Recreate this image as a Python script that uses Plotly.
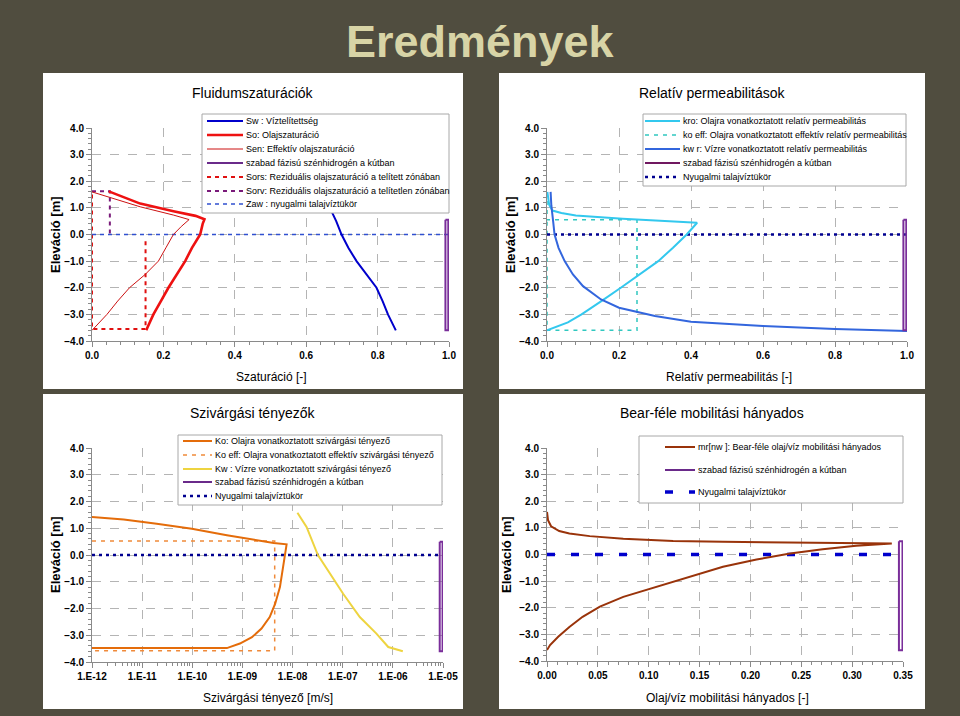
import plotly.graph_objects as go

W, H = 960, 716


def px(x):
    return x / W


def py(y):
    return 1 - y / H


# ------------------------------------------------------------------ data
# Panel 1 – Fluidumszaturációk
sw_elev = [1.6, 0.9, 0.5, 0.0, -0.5, -1.0, -1.5, -2.0, -2.5, -3.0, -3.6]
sw_val = [0.645, 0.671, 0.684, 0.699, 0.718, 0.741, 0.768, 0.797, 0.814, 0.829, 0.851]

so_elev = [1.62, 1.45, 1.16, 0.875, 0.7, 0.57, 0.4, 0.0, -0.5, -1.0, -1.5, -2.0, -2.5, -3.0, -3.5, -3.6]
so_val = [0.047, 0.08, 0.135, 0.228, 0.29, 0.315, 0.31, 0.303, 0.28, 0.261, 0.237, 0.214, 0.193, 0.172, 0.155, 0.152]

sen_elev = [1.6, 1.04, 0.73, 0.56, 0.3, 0.0, -0.5, -1.0, -1.5, -2.0, -2.5, -3.0, -3.6]
sen_val = [0.0, 0.135, 0.228, 0.272, 0.25, 0.228, 0.207, 0.186, 0.149, 0.105, 0.072, 0.042, 0.0]

sors_elev = [-0.25, -3.55, -3.55, 1.6]
sors_val = [0.15, 0.15, 0.0, 0.0]

sorv_elev = [1.62, 1.62, 0.0]
sorv_val = [0.0, 0.05, 0.05]

zaw_elev = [0.0, 0.0]
zaw_val = [0.0, 1.0]

well1_elev = [0.55, 0.55, -3.6, -3.6, 0.55]
well1_val = [0.99, 0.998, 0.998, 0.99, 0.99]

# Panel 2 – Relatív permeabilitások
kro_elev = [1.6, 1.12, 0.9, 0.81, 0.71, 0.59, 0.5, 0.44, 0.0, -0.5, -1.0, -1.5, -2.0, -2.5, -3.0, -3.3, -3.6]
kro_val = [0.001, 0.006, 0.015, 0.04, 0.08, 0.21, 0.34, 0.417, 0.388, 0.35, 0.309, 0.258, 0.205, 0.151, 0.096, 0.058, 0.0]

koeff_elev = [1.6, 0.55, 0.55, -3.6, -3.6, 0.55]
koeff_val = [0.0, 0.0, 0.25, 0.25, 0.0, 0.0]

kwr_elev = [1.6, 1.1, 0.5, 0.0, -0.5, -1.0, -1.5, -1.94, -2.44, -2.75, -3.06, -3.28, -3.44, -3.55, -3.62]
kwr_val = [0.010, 0.012, 0.017, 0.021, 0.032, 0.049, 0.072, 0.10, 0.15, 0.20, 0.30, 0.40, 0.60, 0.80, 1.0]

well2_elev = [0.55, 0.55, -3.6, -3.6, 0.55]
well2_val = [0.99, 0.998, 0.998, 0.99, 0.99]

gw2_elev = [0.0, 0.0]
gw2_val = [0.0, 1.0]

# Panel 3 – Szivárgási tényezők
ko_elev = [1.42, 1.33, 1.17, 0.98, 0.74, 0.55, 0.45, 0.40, 0.05, -0.57, -1.2, -1.82, -2.32, -2.75, -3.07, -3.31, -3.48, -3.48]
ko_val = [1e-12, 4.3e-12, 1.95e-11, 9.8e-11, 4.9e-10, 1.9e-9, 4.2e-9, 7.6e-9, 7.1e-9, 6.3e-9, 5.6e-9,
          4.5e-9, 3.5e-9, 2.4e-9, 1.55e-9, 8.9e-10, 4.9e-10, 1e-12]

koeff3_elev = [0.52, 0.52, -3.58, -3.58]
koeff3_val = [1e-12, 4.4e-9, 4.4e-9, 1e-12]

kw_elev = [1.58, 1.05, 0.0, -0.70, -1.45, -2.32, -2.94, -3.44, -3.6]
kw_val = [1.25e-8, 1.9e-8, 3.2e-8, 5.5e-8, 1.02e-7, 2.19e-7, 4.7e-7, 8.1e-7, 1.58e-6]

well3_elev = [0.5, 0.5, -3.6, -3.6, 0.5]
well3_val = [8.6e-6, 9.8e-6, 9.8e-6, 8.6e-6, 8.6e-6]

gw3_elev = [0.0, 0.0]
gw3_val = [1e-12, 1e-5]

log_ticks = [1e-12, 1e-11, 1e-10, 1e-9, 1e-8, 1e-7, 1e-6, 1e-5]
log_ticktext = ["1.E-12", "1.E-11", "1.E-10", "1.E-09", "1.E-08", "1.E-07", "1.E-06", "1.E-05"]

# Panel 4 – Bear-féle mobilitási hányados
mr_elev = [1.6, 1.29, 1.06, 0.88, 0.79, 0.69, 0.59, 0.51, 0.48, 0.45, 0.44, 0.41, 0.33, 0.20, 0.04, -0.19,
           -0.46, -0.84, -1.21, -1.59, -1.96, -2.34, -2.72, -3.09, -3.4, -3.59]
mr_val = [0.0, 0.001, 0.004, 0.012, 0.022, 0.042, 0.075, 0.124, 0.173, 0.239, 0.304, 0.339, 0.304, 0.271,
          0.239, 0.206, 0.173, 0.140, 0.107, 0.075, 0.052, 0.035, 0.022, 0.011, 0.003, 0.0]

well4_elev = [0.5, 0.5, -3.6, -3.6, 0.5]
well4_val = [0.346, 0.3495, 0.3495, 0.346, 0.346]

gw4_elev = [0.0, 0.0]
gw4_val = [0.0, 0.35]

# ------------------------------------------------------------------ styles
BG = "#504D3F"
TITLE_C = "#D8D4A6"
PURPLE = "#7A2E9A"

S = {
    "sw": dict(color="#0000CC", width=2),
    "so": dict(color="#EE1111", width=2.6),
    "sen": dict(color="#CC1111", width=1),
    "well": dict(color=PURPLE, width=2),
    "sors": dict(color="#E01010", width=2, dash="4px,4px"),
    "sorv": dict(color="#7A1A7A", width=2, dash="4px,4px"),
    "zaw": dict(color="#3050D0", width=1.5, dash="4px,4px"),
    "kro": dict(color="#33C8EE", width=2),
    "koeff": dict(color="#30C8C0", width=1.5, dash="4px,5px"),
    "kwr": dict(color="#3366DD", width=2),
    "gw": dict(color="#000090", width=2.5, dash="3px,4px"),
    "ko": dict(color="#E46C0A", width=2),
    "koeff3": dict(color="#F08A3A", width=1.5, dash="4px,5px"),
    "kw": dict(color="#EED440", width=2),
    "mr": dict(color="#99330A", width=2),
    "gw4": dict(color="#0000CC", width=3.5, dash="8px,16px"),
}

fig = go.Figure()


def add(xs, ys, style, ax):
    fig.add_trace(go.Scatter(x=xs, y=ys, mode="lines", line=style, xaxis="x" + ax, yaxis="y" + ax,
                             showlegend=False, hoverinfo="skip"))


# panel 1
add(sors_val, sors_elev, S["sors"], "")
add(sorv_val, sorv_elev, S["sorv"], "")
add(zaw_val, zaw_elev, S["zaw"], "")
add(sen_val, sen_elev, S["sen"], "")
add(so_val, so_elev, S["so"], "")
add(sw_val, sw_elev, S["sw"], "")
add(well1_val, well1_elev, S["well"], "")
# panel 2
add(koeff_val, koeff_elev, S["koeff"], "2")
add(gw2_val, gw2_elev, S["gw"], "2")
add(kro_val, kro_elev, S["kro"], "2")
add(kwr_val, kwr_elev, S["kwr"], "2")
add(well2_val, well2_elev, S["well"], "2")
# panel 3
add(koeff3_val, koeff3_elev, S["koeff3"], "3")
add(gw3_val, gw3_elev, S["gw"], "3")
add(ko_val, ko_elev, S["ko"], "3")
add(kw_val, kw_elev, S["kw"], "3")
add(well3_val, well3_elev, S["well"], "3")
# panel 4
add(gw4_val, gw4_elev, S["gw4"], "4")
add(mr_val, mr_elev, S["mr"], "4")
add(well4_val, well4_elev, S["well"], "4")

# ------------------------------------------------------------------ axes
TICKFONT = dict(family="Liberation Sans, Arial", size=10, color="#000", weight="bold")
AXC = "#8A8A8A"
GRIDC = "#B4B4B4"


def xaxis(dom, rng, dtick, fmt, minor_dtick, anchor, log=False):
    d = dict(domain=dom, range=rng, anchor=anchor, automargin=False, showline=True, linecolor=AXC,
             linewidth=1, ticks="outside", ticklen=5, tickcolor=AXC, tickfont=TICKFONT,
             showgrid=True, gridcolor=GRIDC, griddash="dash", gridwidth=1, zeroline=False,
             minor=dict(ticks="outside", ticklen=3, tickcolor=AXC, showgrid=False, dtick=minor_dtick))
    if log:
        d.update(type="log", tickmode="array", tickvals=log_ticks, ticktext=log_ticktext)
    else:
        d.update(dtick=dtick, tickformat=fmt, tick0=0)
    return d


def yaxis(dom, anchor):
    return dict(domain=dom, range=[-4, 4], anchor=anchor, automargin=False, dtick=1, tick0=0,
                tickformat=".1f", showline=True, linecolor=AXC, linewidth=1, ticks="outside", ticklen=5,
                tickcolor=AXC, tickfont=TICKFONT, showgrid=True, gridcolor=GRIDC, griddash="dash",
                zeroline=False,
                minor=dict(ticks="outside", ticklen=3, tickcolor=AXC, showgrid=False, dtick=0.2))


top_y = [py(341), py(128)]
bot_y = [py(662), py(448)]

layout_axes = dict(
    xaxis=xaxis([px(92), px(449)], [0, 1], 0.2, ".1f", 0.04, "y"),
    yaxis=yaxis(top_y, "x"),
    xaxis2=xaxis([px(547), px(907)], [0, 1], 0.2, ".1f", 0.04, "y2"),
    yaxis2=yaxis(top_y, "x2"),
    xaxis3=xaxis([px(92), px(443)], [-12, -5], None, None, "D1", "y3", log=True),
    yaxis3=yaxis(bot_y, "x3"),
    xaxis4=xaxis([px(547), px(903)], [0, 0.35], 0.05, ".2f", 0.01, "y4"),
    yaxis4=yaxis([py(661), py(448)], "x4"),
)

# ------------------------------------------------------------------ panels, titles, legends
shapes = []
annotations = []

for (x0, y0, x1, y1) in [(43, 73, 463, 389), (499, 73, 925, 389), (43, 394, 463, 709), (499, 394, 925, 709)]:
    shapes.append(dict(type="rect", xref="paper", yref="paper", x0=px(x0), x1=px(x1), y0=py(y1), y1=py(y0),
                       fillcolor="white", line=dict(width=0), layer="below"))

FONT = "Liberation Sans, Arial"


def text(x, y, s, size, bold=False, angle=0, xanchor="center", color="#000"):
    annotations.append(dict(x=px(x), y=py(y), xref="paper", yref="paper", text=s, showarrow=False,
                            textangle=angle, xanchor=xanchor, yanchor="middle",
                            font=dict(family=FONT, size=size, color=color,
                                      weight="bold" if bold else "normal")))


annotations.append(dict(x=px(480), y=py(42), xref="paper", yref="paper", text="Eredmények", showarrow=False,
                        xanchor="center", yanchor="middle",
                        font=dict(family="Liberation Sans, Arial", size=45, color=TITLE_C, weight="bold")))

panel_titles = ["Fluidumszaturációk", "Relatív permeabilitások", "Szivárgási tényezők",
                "Bear-féle mobilitási hányados"]
x_titles = ["Szaturáció [-]", "Relatív permeabilitás [-]", "Szivárgási tényező [m/s]",
            "Olaj/víz mobilitási hányados [-]"]
y_title = "Eleváció [m]"

text(253, 93, panel_titles[0], 14)
text(712, 93, panel_titles[1], 14)
text(253, 413, panel_titles[2], 14)
text(712, 413, panel_titles[3], 14)
text(271, 377, x_titles[0], 12)
text(729, 377, x_titles[1], 12)
text(268, 698, x_titles[2], 12)
text(727, 698, x_titles[3], 12)
text(55, 235, y_title, 13, bold=True, angle=-90)
text(510, 235, y_title, 13, bold=True, angle=-90)
text(55, 555, y_title, 13, bold=True, angle=-90)
text(506, 555, y_title, 13, bold=True, angle=-90)

leg1_names = ["Sw : Víztelítettség", "So: Olajszaturáció", "Sen: Effektív olajszaturáció",
              "szabad fázisú szénhidrogén a kútban", "Sors: Reziduális olajszaturáció a telített zónában",
              "Sorv: Reziduális olajszaturáció a telítetlen zónában", "Zaw : nyugalmi talajvíztükör"]
leg2_names = ["kro: Olajra vonatkoztatott relatív permeabilitás",
              "ko eff: Olajra vonatkoztatott effektív relatív permeabilitás",
              "kw r: Vízre vonatkoztatott relatív permeabilitás",
              "szabad fázisú szénhidrogén a kútban", "Nyugalmi talajvíztükör"]
leg3_names = ["Ko: Olajra vonatkoztatott szivárgási tényező",
              "Ko eff: Olajra vonatkoztatott effektív szivárgási tényező",
              "Kw : Vízre vonatkoztatott szivárgási tényező",
              "szabad fázisú szénhidrogén a kútban", "Nyugalmi talajvíztükör"]
leg4_names = ["mr[nw ]: Bear-féle olaj/víz mobilitási hányados",
              "szabad fázisú szénhidrogén a kútban", "Nyugalmi talajvíztükör"]

well_leg = dict(color="#6A2A8A", width=2)


def legend(box, lx0, lx1, ys, names, styles):
    bx0, by0, bx1, by1 = box
    shapes.append(dict(type="rect", xref="paper", yref="paper", x0=px(bx0), x1=px(bx1), y0=py(by1),
                       y1=py(by0), fillcolor="white", line=dict(color="#A8A8A8", width=1)))
    for y, name, st in zip(ys, names, styles):
        shapes.append(dict(type="line", xref="paper", yref="paper", x0=px(lx0), x1=px(lx1), y0=py(y),
                           y1=py(y), line=st))
        text(lx1 + 1, y, name, 9, xanchor="left")


legend((202, 114, 449, 213), 207, 243, [121, 135, 149, 163, 177, 191, 204], leg1_names,
       [S["sw"], S["so"], S["sen"], well_leg, S["sors"], S["sorv"], S["zaw"]])
legend((643, 114, 906, 186), 645, 680, [121, 135, 149, 163, 177], leg2_names,
       [S["kro"], S["koeff"], S["kwr"], dict(color="#701860", width=2), S["gw"]])
legend((178, 435, 442, 505), 183, 212, [441, 455, 469, 482, 496], leg3_names,
       [S["ko"], S["koeff3"], S["kw"], well_leg, S["gw"]])
legend((639, 436, 903, 503), 665, 695, [447, 470, 492], leg4_names,
       [S["mr"], well_leg, S["gw4"]])

fig.update_layout(
    width=W, height=H, margin=dict(l=0, r=0, t=0, b=0, pad=0), autosize=False,
    paper_bgcolor=BG, plot_bgcolor="white", showlegend=False,
    shapes=shapes, annotations=annotations, **layout_axes,
)

fig.write_html("out.html", config={"displayModeBar": False},
               post_script="document.body.style.margin='0';document.body.style.padding='0';"
                           "document.body.style.overflow='hidden';")
